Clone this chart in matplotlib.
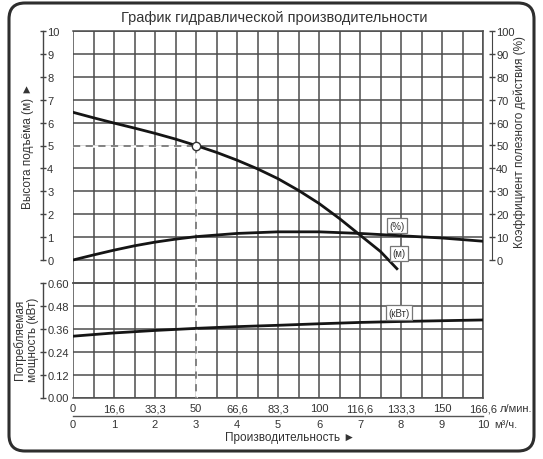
import numpy as np
import matplotlib
matplotlib.use("Agg")
import matplotlib.pyplot as plt
from matplotlib.patches import FancyBboxPatch
from matplotlib.ticker import FixedLocator

plt.rcParams['font.family'] = ['Liberation Sans', 'DejaVu Sans']

# ---------------- data ----------------
q_head = [0, 0.5, 1, 1.5, 2, 2.5, 3, 3.5, 4, 4.5, 5, 5.5, 6, 6.5, 7, 7.5, 7.9]
head_m = [6.45, 6.21, 5.98, 5.76, 5.53, 5.28, 5.0, 4.70, 4.36, 3.98, 3.55, 3.04,
          2.47, 1.81, 1.09, 0.37, -0.38]

q_eff = [0, 0.5, 1, 1.5, 2, 2.5, 3, 4, 5, 6, 7, 8, 9, 10]
eff_pct = [0, 2.2, 4.3, 6.2, 7.8, 9.1, 10.2, 11.6, 12.3, 12.3, 11.6, 10.6, 9.6, 8.2]

q_pow = [0, 1, 2, 3, 4, 5, 6, 7, 8, 9, 10]
power_kw = [0.321, 0.338, 0.351, 0.362, 0.371, 0.378, 0.386, 0.393, 0.398, 0.402, 0.406]

op_q = 3
op_h = 5

q_ticks_m3h = [0, 1, 2, 3, 4, 5, 6, 7, 8, 9, 10]
lmin_labels = ["0", "16,6", "33,3", "50", "66,6", "83,3", "100", "116,6", "133,3", "150", "166,6"]
m3h_labels = ["0", "1", "2", "3", "4", "5", "6", "7", "8", "9", "10"]
head_ticks = [0, 1, 2, 3, 4, 5, 6, 7, 8, 9, 10]
eff_ticks = [0, 10, 20, 30, 40, 50, 60, 70, 80, 90, 100]
pow_ticks = [0.00, 0.12, 0.24, 0.36, 0.48, 0.60]

title = "График гидравлической производительности"
xlabel = "Производительность ►"
ylabel_head = "Высота подъёма (м) ►"
ylabel_eff = "Коэффициент полезного действия (%)"
ylabel_pow = "Потребляемая\nмощность (кВт)"

# ---------------- style ----------------
W, H = 543, 460
GRID_C = '#4c4c4c'
TXT_C = '#333333'
CURVE_C = '#151515'
DASH_C = '#7a7a7a'
GLW = 1.1
TICK_FS = 8
DASH = (0, (4, 3))

fig = plt.figure(figsize=(W / 100, H / 100), dpi=100)

left = 73 / W
width = 410 / W
top_px, mid_px, bot_px = 32, 283.9, 398.5
ax_top = fig.add_axes([left, 1 - mid_px / H, width, (mid_px - top_px) / H])
ax_low = fig.add_axes([left, 1 - bot_px / H, width, (bot_px - mid_px) / H], sharex=ax_top)

for ax in (ax_top, ax_low):
    ax.set_xlim(0, 10)
    ax.xaxis.set_minor_locator(FixedLocator(np.arange(0, 10.01, 0.5)))
    ax.grid(True, which='both', axis='x', color=GRID_C, lw=GLW)
    ax.grid(True, which='major', axis='y', color=GRID_C, lw=GLW)
    ax.tick_params(axis='x', which='both', length=0)
    for s in ('top', 'right', 'bottom'):
        ax.spines[s].set_color(GRID_C)
        ax.spines[s].set_linewidth(GLW)
    ax.spines['left'].set_position(('outward', 21.6))
    ax.spines['left'].set_color('#444444')
    ax.spines['left'].set_linewidth(1.0)
    ax.set_axisbelow(True)

# upper panel: head
ax_top.set_ylim(-1, 10)
ax_top.set_yticks(head_ticks)
ax_top.spines['left'].set_bounds(0, 10)
ax_top.tick_params(axis='x', labelbottom=False)
ax_top.tick_params(axis='y', direction='inout', length=4, width=1.0, color='#444444',
                   pad=-5, labelsize=TICK_FS, labelcolor=TXT_C)
for lab in ax_top.get_yticklabels():
    lab.set_horizontalalignment('left')

# dashed operating-point guides (white underlay hides grid beneath)
for xs, ys in (([0, op_q], [op_h, op_h]), ([op_q, op_q], [op_h, -1])):
    ax_top.plot(xs, ys, color='white', lw=1.8, zorder=3, solid_capstyle='butt')
    ax_top.plot(xs, ys, ls=DASH, color=DASH_C, lw=1.3, zorder=4)
ax_top.plot(q_head, head_m, color=CURVE_C, lw=2.0, zorder=5)
ax_top.plot([op_q], [op_h], marker='o', ms=6, mfc='white', mec='#333333', mew=1.0, zorder=6)

# efficiency on twin axis
ax_eff = ax_top.twinx()
ax_eff.set_ylim(-10, 100)
ax_eff.set_yticks(eff_ticks)
for s in ('top', 'left', 'bottom'):
    ax_eff.spines[s].set_visible(False)
ax_eff.spines['right'].set_position(('outward', 6.5))
ax_eff.spines['right'].set_bounds(0, 100)
ax_eff.spines['right'].set_color('#444444')
ax_eff.tick_params(axis='y', direction='inout', length=4, width=1.0, color='#444444',
                   pad=1, labelsize=TICK_FS, labelcolor=TXT_C)
ax_eff.plot(q_eff, eff_pct, color=CURVE_C, lw=2.0, zorder=5)

# lower panel: power
ax_low.set_ylim(0, 0.6)
ax_low.set_yticks(pow_ticks)
ax_low.set_yticklabels([f"{v:.2f}" for v in pow_ticks])
ax_low.spines['left'].set_bounds(0, 0.6)
ax_low.tick_params(axis='y', direction='inout', length=4, width=1.0, color='#444444',
                   pad=-5, labelsize=TICK_FS, labelcolor=TXT_C)
for lab in ax_low.get_yticklabels():
    lab.set_horizontalalignment('left')
ax_low.set_xticks(q_ticks_m3h)
ax_low.set_xticklabels(lmin_labels)
ax_low.tick_params(axis='x', which='major', pad=4, labelsize=TICK_FS, labelcolor=TXT_C)
ax_low.plot([op_q, op_q], [0.6, 0], color='white', lw=1.8, zorder=3, solid_capstyle='butt')
ax_low.plot([op_q, op_q], [0.6, 0], ls=DASH, color=DASH_C, lw=1.3, zorder=4)
ax_low.plot(q_pow, power_kw, color=CURVE_C, lw=2.0, zorder=5)

# second x axis in m3/h
sec_loc = -18.5 / (bot_px - mid_px)
sec = ax_low.secondary_xaxis(sec_loc)
sec.set_xticks(q_ticks_m3h)
sec.set_xticklabels(m3h_labels)
sec.tick_params(axis='x', length=0, pad=2, labelsize=TICK_FS, labelcolor=TXT_C)
sec.spines['bottom'].set_color('#555555')
sec.spines['bottom'].set_linewidth(1.0)

# units after last labels
ax_low.annotate("л/мин.", xy=(10, 0), xycoords=('data', 'axes fraction'),
                xytext=(12.5, -4), textcoords='offset points', ha='left', va='top',
                fontsize=TICK_FS, color=TXT_C)
ax_low.annotate("м³/ч.", xy=(10, sec_loc), xycoords=('data', 'axes fraction'),
                xytext=(8, -2), textcoords='offset points', ha='left', va='top',
                fontsize=TICK_FS, color=TXT_C)

# curve tags
box = dict(boxstyle='square,pad=0.25', fc='white', ec='#777777', lw=0.9)
ax_top.text(7.9, 1.5, "(%)", ha='center', va='center', fontsize=7, color=TXT_C, bbox=box, zorder=7)
ax_top.text(7.95, 0.3, "(м)", ha='center', va='center', fontsize=7, color=TXT_C, bbox=box, zorder=7)
ax_low.text(7.95, 0.444, "(кВт)", ha='center', va='center', fontsize=7, color=TXT_C, bbox=box, zorder=7)

# texts
fig.text(274 / W, 1 - 18 / H, title, ha='center', va='center', fontsize=10.5, color=TXT_C)
fig.text(290 / W, 1 - 438 / H, xlabel, ha='center', va='center', fontsize=8.5, color=TXT_C)
fig.text(28 / W, 1 - 146 / H, ylabel_head, ha='center', va='center', rotation=90,
         fontsize=8.5, color=TXT_C)
fig.text(520 / W, 1 - 141.5 / H, ylabel_eff, ha='center', va='center', rotation=90,
         fontsize=8.5, color=TXT_C)
fig.text(26 / W, 1 - 340 / H, ylabel_pow, ha='center', va='center', rotation=90,
         fontsize=8.5, color=TXT_C, multialignment='center', linespacing=1.15)

# outer rounded frame
frame = FancyBboxPatch((0.09, 0.08), 5.25, 4.48,
                       boxstyle='round,pad=0,rounding_size=0.16',
                       transform=fig.dpi_scale_trans, fill=False,
                       ec='#2e2e2e', lw=2.2, zorder=0)
fig.patches.append(frame)

fig.savefig("out.png", dpi=100)
